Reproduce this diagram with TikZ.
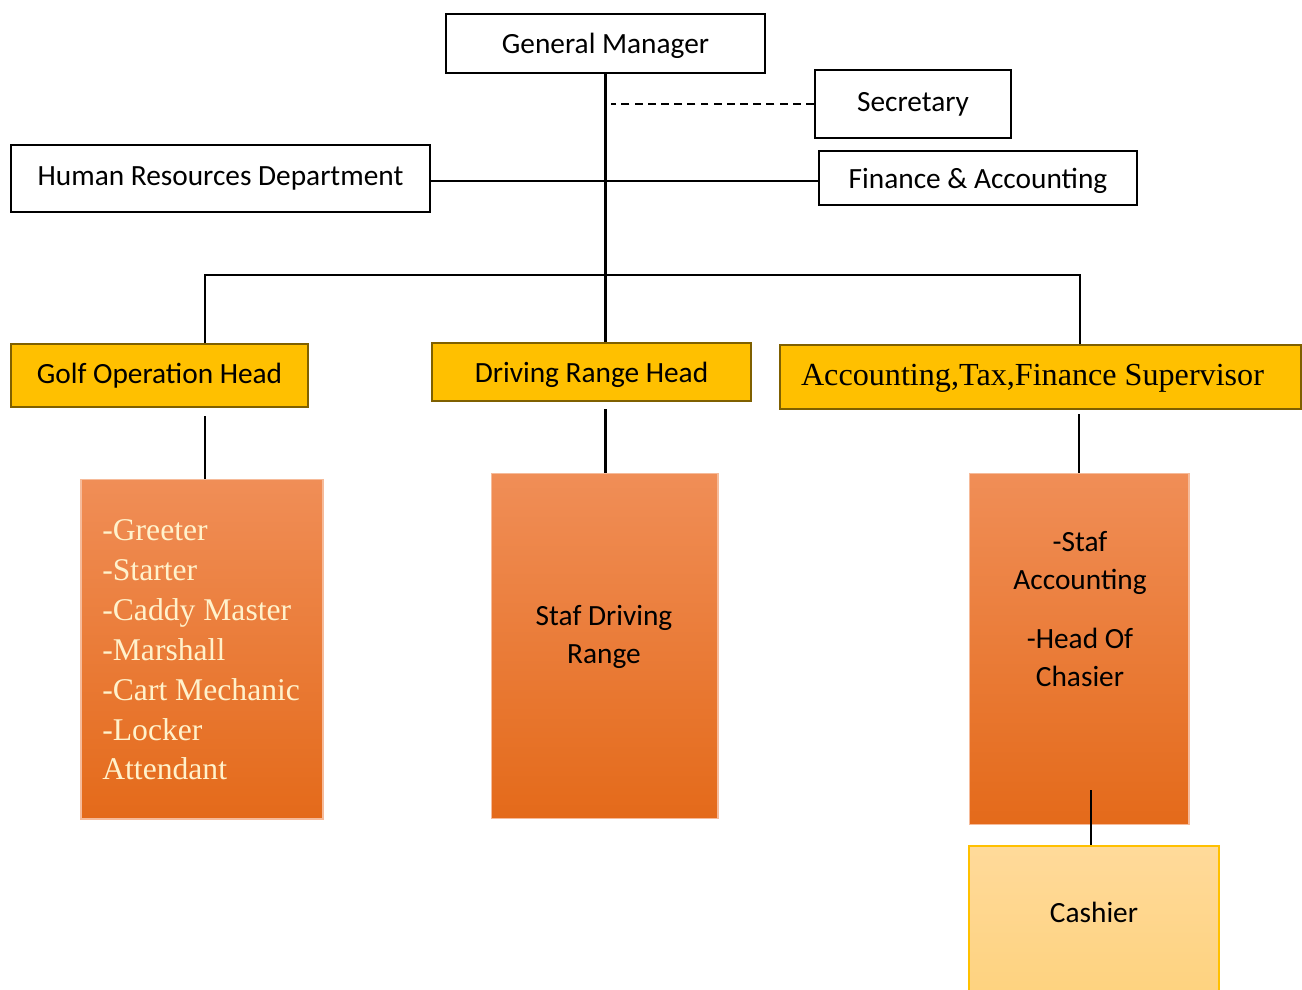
\documentclass[tikz,border=0pt]{standalone}
\usepackage{fontspec}
\setmainfont{Carlito}
\newfontfamily\timesfont{Liberation Serif}
\usetikzlibrary{positioning}
\definecolor{headfill}{HTML}{FFC000}
\definecolor{headline}{HTML}{7F6000}
\definecolor{orangetop}{HTML}{F08E57}
\definecolor{orangebot}{HTML}{E46A1A}
\definecolor{creamtext}{HTML}{FFF2CC}
\definecolor{cashtop}{HTML}{FFDA9A}
\definecolor{cashbot}{HTML}{FED27E}

\begin{document}
\begin{tikzpicture}[x=0.02cm, y=-0.02cm, every node/.style={font=\fontsize{16.7}{20}\selectfont}]
\tikzstyle{box}=[draw, line width=1.3pt, inner sep=0pt]
\tikzstyle{headbox}=[box, fill=headfill, draw=headline]
\tikzstyle{staffbox}=[draw=orangetop!60!white, line width=0.6pt, top color=orangetop, bottom color=orangebot, inner sep=0pt]
\tikzstyle{stafftext}=[align=center, font=\fontsize{16.7}{22.1}\selectfont]
\tikzstyle{link}=[line width=1.4pt]
\useasboundingbox (0,0) rectangle (1302,990);

% top level
\node[box, minimum width=6.38cm, minimum height=1.18cm, text depth=-0.03cm] (gm) at (605.5,43.5) {General Manager};
\node[box, minimum width=3.92cm, minimum height=1.36cm] (sec) at (913,104) {Secretary};
\node[box, minimum width=8.38cm, minimum height=1.34cm] (hr) at (220.5,178.5) {Human Resources Department};
\node[box, minimum width=6.36cm, minimum height=1.08cm, text depth=-0.12cm] (fin) at (978,178) {Finance \& Accounting};

% heads
\node[headbox, minimum width=5.94cm, minimum height=1.26cm] (goh) at (159.5,375.5) {Golf Operation Head};
\node[headbox, minimum width=6.38cm, minimum height=1.16cm, text depth=-0.06cm] (drh) at (591.5,372) {Driving Range Head};
\node[headbox, minimum width=10.42cm, minimum height=1.28cm] (ats) at (1040.5,377) {};
\node[font=\timesfont\fontsize{18.3}{22}\selectfont] (atstxt) at (1032.5,378) {Accounting,Tax,Finance Supervisor};

% staff
\node[staffbox, minimum width=4.84cm, minimum height=6.8cm] (golf) at (202,649) {};
\node[anchor=west, inner sep=0pt, align=left, text=creamtext, font=\timesfont\fontsize{18}{22.7}\selectfont] (golftxt) at (102,650)
  {-Greeter\\-Starter\\-Caddy Master\\-Marshall\\-Cart Mechanic\\-Locker\\Attendant};
\node[staffbox, minimum width=4.54cm, minimum height=6.92cm] (sdr) at (604.5,646) {};
\node[stafftext] (sdrtxt) at (604,637) {Staf Driving\\Range};
\node[staffbox, minimum width=4.4cm, minimum height=7.04cm] (sac) at (1079,649) {};
\node[stafftext] (sactxt) at (1080,609) {-Staf\\Accounting\\[11pt]-Head Of\\Chasier};
\node[draw=headfill, line width=0.7pt, top color=cashtop, bottom color=cashbot, minimum width=5cm, minimum height=3.08cm] (cash) at (1094,923) {};
\node (cashtxt) at (1094,912) {Cashier};

% connectors
\coordinate (busL) at (205,275);
\coordinate (busR) at (1080,275);
\coordinate (cashup) at (1091,790);
\draw[link] (gm.south) -- (gm.south |- drh.north);
\draw[line width=1pt, dash pattern=on 4.5pt off 3pt] (sec.west) -- ([xshift=0.1cm]sec.west -| gm.south);
\draw[link] ([yshift=-0.05cm]hr.east) -- ([yshift=-0.05cm]hr.east -| fin.west);
\draw[link] (busL |- goh.north) -- (busL) -- (busR) -- (busR |- ats.north);
\draw[link, shorten <=0.16cm] (goh.south -| busL) -- (golf.north -| busL);
\draw[link, shorten <=0.14cm] (drh.south -| gm.south) -- (sdr.north -| gm.south);
\draw[link, shorten <=0.08cm] (ats.south -| sac.north) -- (sac.north);
\draw[line width=0.7pt] (cashup) -- (cashup |- cash.north);
\end{tikzpicture}
\end{document}
